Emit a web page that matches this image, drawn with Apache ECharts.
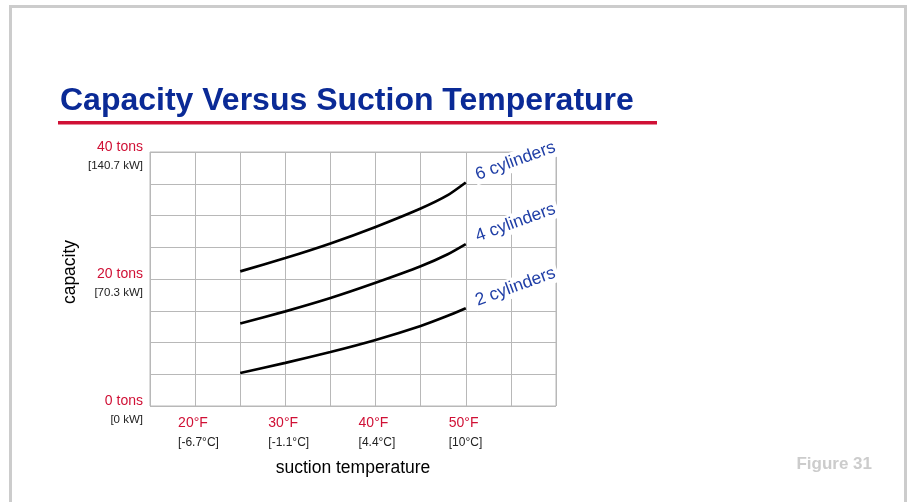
<!DOCTYPE html>
<html>
<head>
<meta charset="utf-8">
<script src="https://cdn.jsdelivr.net/npm/echarts@6/dist/echarts.min.js"></script>
<style>
  html, body { margin: 0; padding: 0; background: #fff; }
  #chart { width: 909px; height: 502px; }
</style>
</head>
<body>
<div id="chart"></div>
<script>
// suction temperature, °F
const temps = [25, 30, 35, 40, 45, 48, 50];
// capacity, tons
const cyl6 = [21.2, 23.3, 25.6, 28.2, 31.1, 33.2, 35.2];
const cyl4 = [13.0, 14.9, 17.0, 19.4, 22.0, 23.9, 25.5];
const cyl2 = [5.2, 6.8, 8.5, 10.4, 12.6, 14.2, 15.4];
const seriesNames = ['6 cylinders', '4 cylinders', '2 cylinders'];

// tick labels
const yLabels = { 0: ['0 tons', '[0 kW]'], 20: ['20 tons', '[70.3 kW]'], 40: ['40 tons', '[140.7 kW]'] };
const xLabels = { 20: ['20°F', '[-6.7°C]'], 30: ['30°F', '[-1.1°C]'], 40: ['40°F', '[4.4°C]'], 50: ['50°F', '[10°C]'] };

const red = '#d01035';
const blue = '#1f3ea6';
const gridGray = '#b8b8b8';
const font = 'Liberation Sans, Arial, sans-serif';

function makeSeries(name, values) {
  const last = values.length - 1;
  return {
    name: name,
    type: 'line',
    data: temps.map((t, i) => [t, values[i]]),
    smooth: 0.2,
    showSymbol: false,
    lineStyle: { color: '#000', width: 2.7 },
    markPoint: {
      symbol: 'circle',
      symbolSize: 1,
      itemStyle: { color: 'rgba(0,0,0,0)' },
      data: [{ coord: [temps[last], values[last]], name: name }],
      label: {
        show: true,
        position: 'right',
        formatter: '{b}',
        rotate: 20,
        offset: [5, -5],
        color: blue,
        fontFamily: font,
        fontSize: 17.5,
        backgroundColor: '#fff',
        padding: [1, 3, 1, 2]
      }
    }
  };
}

const option = {
  backgroundColor: '#fff',
  animation: false,
  textStyle: { fontFamily: font },
  title: {
    text: 'Capacity Versus Suction Temperature',
    left: 55,
    top: 80,
    textStyle: { fontSize: 32, fontWeight: 'bold', color: '#0a2a96' }
  },
  graphic: [
    { type: 'rect', left: 8, top: 4, shape: { width: 895, height: 520 },
      style: { fill: 'none', stroke: '#cccccc', lineWidth: 3 }, silent: true },
    { type: 'rect', left: 58, top: 121, shape: { width: 599, height: 3.5 },
      style: { fill: red }, silent: true },
    { type: 'text', right: 37, top: 456,
      style: { text: 'Figure 31', fill: '#cccccc', font: 'bold 17px ' + font } },
    { type: 'text', x: 70, y: 272, rotation: Math.PI / 2,
      style: { text: 'capacity', fill: '#000', font: '17.5px ' + font, align: 'center', verticalAlign: 'middle' } }
  ],
  grid: {
    left: 150, top: 152, width: 406, height: 254,
    show: true, borderColor: gridGray, borderWidth: 1
  },
  xAxis: {
    type: 'value',
    min: 15, max: 60, interval: 5,
    name: 'suction temperature',
    nameLocation: 'middle',
    nameGap: 53,
    nameTextStyle: { fontSize: 17.5, color: '#000' },
    axisLine: { show: false },
    axisTick: { show: false },
    splitLine: { lineStyle: { color: gridGray, width: 1 } },
    axisLabel: {
      margin: 8,
      formatter: v => xLabels[v] ? '{t|' + xLabels[v][0] + '}\n{k|' + xLabels[v][1] + '}' : '',
      rich: {
        t: { color: red, fontSize: 14, lineHeight: 19, width: 34, align: 'left' },
        k: { color: '#222', fontSize: 12, lineHeight: 19, width: 34, align: 'left' }
      }
    }
  },
  yAxis: {
    type: 'value',
    min: 0, max: 40, interval: 5,
    axisLine: { show: false },
    axisTick: { show: false },
    splitLine: { lineStyle: { color: gridGray, width: 1 } },
    axisLabel: {
      margin: 7,
      formatter: v => yLabels[v] ? '{t|' + yLabels[v][0] + '}\n{k|' + yLabels[v][1] + '}' : '',
      padding: [9, 0, 0, 0],
      rich: {
        t: { color: red, fontSize: 14, lineHeight: 19, align: 'right' },
        k: { color: '#222', fontSize: 11.5, lineHeight: 19, align: 'right' }
      }
    }
  },
  series: [
    makeSeries(seriesNames[0], cyl6),
    makeSeries(seriesNames[1], cyl4),
    makeSeries(seriesNames[2], cyl2)
  ]
};

const chart = echarts.init(document.getElementById('chart'));
chart.setOption(option);
</script>
</body>
</html>
